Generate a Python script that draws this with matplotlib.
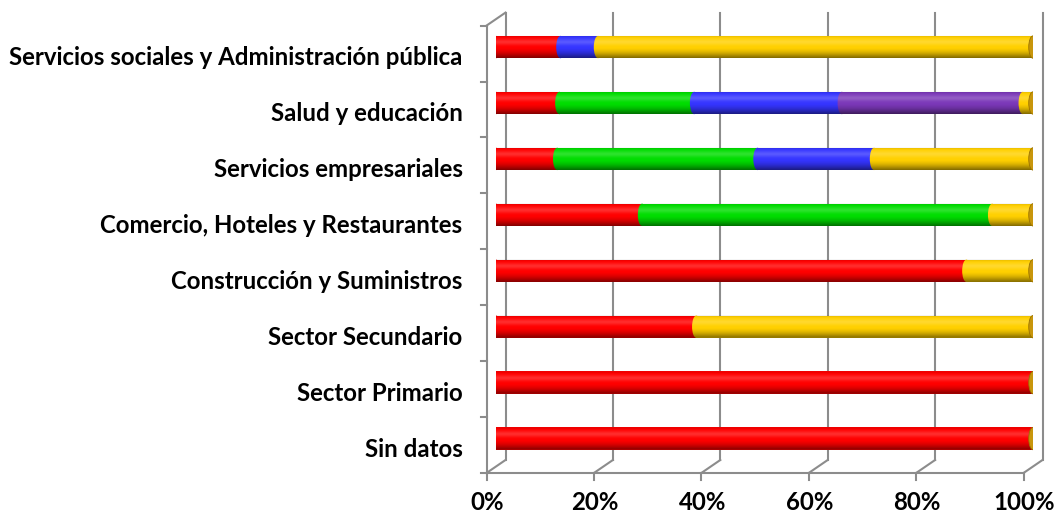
# 100% stacked horizontal bars drawn as Excel-like 3D cylinders

import numpy as np
import matplotlib.pyplot as plt
from matplotlib.patches import Ellipse, Polygon

#%% Data (bottom to top)

categories = ['Sin datos', 'Sector Primario', 'Sector Secundario',
              'Construcción y Suministros', 'Comercio, Hoteles y Restaurantes',
              'Servicios empresariales', 'Salud y educación',
              'Servicios sociales y Administración pública']

# share of each series in every category (%)
serie1 = [100, 100, 37.3, 87.6, 27.2, 11.4, 11.8, 12.0]
serie2 = [0, 0, 0, 0, 65.2, 37.3, 25.1, 0]
serie3 = [0, 0, 0, 0, 0, 21.7, 27.5, 7.0]
serie4 = [0, 0, 0, 0, 0, 0, 33.7, 0]
serie5 = [0, 0, 62.7, 12.4, 7.6, 29.6, 1.9, 81.0]

xticks = [0, 20, 40, 60, 80, 100]
xticklabels = ['0%', '20%', '40%', '60%', '80%', '100%']

series = [serie1, serie2, serie3, serie4, serie5]
colors = ['#FF0000', '#00DD00', '#3535FF', '#7B38B8', '#FFD000']
capcolor = '#C8960C'
gridcolor = '#8C8C8C'

plt.rcParams['font.family'] = ['Lato', 'DejaVu Sans']
plt.rcParams['font.weight'] = 'bold'

#%% Figure geometry (pixels)
W, H, dpi = 1059, 516, 100
fig = plt.figure(figsize=(W / dpi, H / dpi), dpi=dpi)

axw, axh = 537.0, 447.4
ax = fig.add_axes([496 / W, (H - 466.5) / H, axw / W, axh / H])
ax.set_xlim(0, 100)
ax.set_ylim(-0.5, 7.5)
ax.axis('off')

sx = axw / 100.0      # px per x unit
sy = axh / 8.0        # px per category
dx = 9.5 / sx         # depth shift (front = -, back = +)
dy = 6.5 / sy

# back wall gridlines
for x in xticks:
    ax.plot([x + dx, x + dx], [-0.5 + dy, 7.5 + dy], color=gridcolor, lw=1.5,
            zorder=1, clip_on=False)
    # floor diagonals
    ax.plot([x - dx, x + dx], [-0.5 - dy, -0.5 + dy], color=gridcolor, lw=1.5,
            zorder=1, clip_on=False)
    # bottom ticks
    ax.plot([x - dx, x - dx], [-0.5 - dy, -0.5 - dy - 7 / sy], color=gridcolor,
            lw=1.5, zorder=1, clip_on=False)

# front floor line and left axis
ax.plot([-dx, 100 - dx], [-0.5 - dy, -0.5 - dy], color=gridcolor, lw=1.5,
        zorder=1, clip_on=False)
ax.plot([-dx, -dx], [-0.5 - dy, 7.5 - dy], color=gridcolor, lw=1.5,
        zorder=1, clip_on=False)
ax.plot([-dx, dx], [7.5 - dy, 7.5 + dy], color=gridcolor, lw=1.5,
        zorder=1, clip_on=False)
for yb in np.arange(-0.5, 8, 1):
    ax.plot([-dx, -dx - 6 / sx], [yb - dy, yb - dy], color=gridcolor, lw=1.5,
            zorder=1, clip_on=False)

# shading profiles for the cylinder look
n = 80
t = np.linspace(0, 1, n)
dark = 0.5 * np.clip((t - 0.55) / 0.45, 0, 1) ** 1.5 + 0.12 * np.clip(1 - t / 0.12, 0, 1)
light = 0.18 * np.exp(-((t - 0.3) / 0.13) ** 2)
dark_img = np.zeros((n, 1, 4))
dark_img[:, 0, 3] = dark
light_img = np.ones((n, 1, 4))
light_img[:, 0, 3] = light

h = 0.40
ew = 8.5 / sx
for i in range(len(categories)):
    left = 0
    for vals, c in zip(series, colors):
        w = vals[i]
        if w <= 0:
            continue
        ax.barh(i, w, left=left, height=h, color=c, lw=0, zorder=3)
        ax.add_patch(Ellipse((left, i), ew, h, color=c, lw=0, zorder=3))
        left += w

    # clip shape: rounded left end + body
    ang = np.linspace(np.pi / 2, 3 * np.pi / 2, 30)
    pts = [(ew / 2 * np.cos(a), i + h / 2 * np.sin(a)) for a in ang]
    pts += [(100, i - h / 2), (100, i + h / 2)]
    shape = Polygon(pts, closed=True, transform=ax.transData)
    for img in (dark_img, light_img):
        im = ax.imshow(img, extent=[-ew, 100, i - h / 2, i + h / 2], aspect='auto',
                       origin='upper', interpolation='bilinear', zorder=4)
        im.set_clip_path(shape)

    # end cap
    ax.add_patch(Ellipse((100, i), ew, h, facecolor=capcolor, edgecolor='#9A7200',
                         lw=0.6, zorder=5))

ax.set_xlim(0, 100)
ax.set_ylim(-0.5, 7.5)

# category labels (front plane)
for i, cat in enumerate(categories):
    ax.text(-dx - 24 / sx, i - dy - 4 / sy, cat, ha='right', va='center',
            fontsize=17.3, fontweight='bold', color='black', clip_on=False)

# percent labels
for x, lab in zip(xticks, xticklabels):
    ax.text(x - dx + 1 / sx, -0.5 - dy - 30 / sy, lab, ha='center', va='center',
            fontsize=17.3, fontweight='bold', color='black', clip_on=False)

fig.savefig('out.png', dpi=dpi)
